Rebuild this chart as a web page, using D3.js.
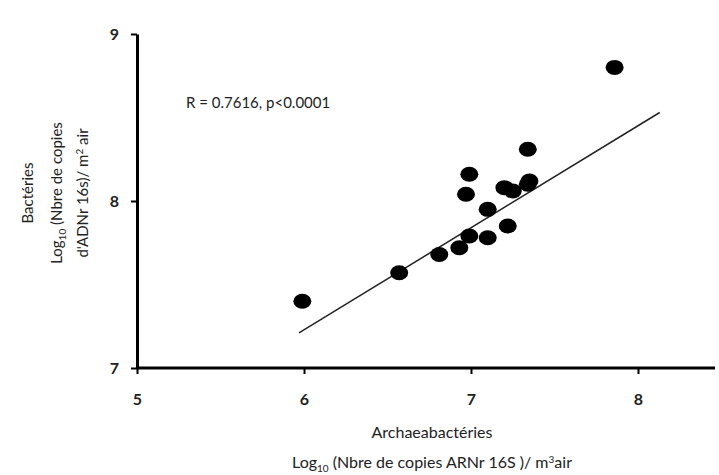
<!DOCTYPE html>
<html>
<head>
<meta charset="utf-8">
<script src="https://cdn.jsdelivr.net/npm/d3@7"></script>
<style>
  body { margin: 0; background: #fff; }
  text { font-family: Lato, "Open Sans", sans-serif; fill: #222; }
</style>
</head>
<body>
<div class="container"></div>
<script>
// archaea (x) vs bacteria (y), log10 copies / m3 air
const archaea = [5.99, 6.57, 6.81, 6.93, 6.99, 7.10, 7.22, 7.10, 6.97, 6.99, 7.20, 7.25, 7.34, 7.35, 7.34, 7.86];
const bacteria = [7.40, 7.57, 7.68, 7.72, 7.79, 7.78, 7.85, 7.95, 8.04, 8.16, 8.08, 8.06, 8.10, 8.12, 8.31, 8.80];
const fitX = [5.97, 8.13];
const fitY = [7.21, 8.53];
const xTicks = [5, 6, 7, 8];
const yTicks = [7, 8, 9];

const width = 719, height = 475;

const svg = d3
  .select(".container")
  .append("svg")
  .attr("width", width)
  .attr("height", height);

const xScale = d3.scaleLinear().domain([5, 8]).range([137, 638]);
const yScale = d3.scaleLinear().domain([7, 9]).range([368, 34]);

// axes
const xAxis = svg
  .append("g")
  .attr("transform", `translate(0, ${yScale(7)})`)
  .call(d3.axisBottom(xScale).tickValues(xTicks).tickFormat(d3.format("d"))
    .tickSize(6).tickPadding(20).tickSizeOuter(0));
xAxis.select(".domain").attr("d", `M${xScale(5)},0H715`).attr("stroke-width", 3);

const yAxis = svg
  .append("g")
  .attr("transform", `translate(${xScale(5)}, 0)`)
  .call(d3.axisLeft(yScale).tickValues(yTicks).tickFormat(d3.format("d"))
    .tickSize(6).tickPadding(12).tickSizeOuter(0));
yAxis.select(".domain").attr("stroke-width", 3);

svg.selectAll(".tick line").attr("stroke-width", 2);
svg.selectAll(".tick text")
  .style("font-size", "16px")
  .style("font-weight", "bold")
  .attr("fill", "#222");

// regression line
svg
  .append("line")
  .attr("x1", xScale(fitX[0]))
  .attr("y1", yScale(fitY[0]))
  .attr("x2", xScale(fitX[1]))
  .attr("y2", yScale(fitY[1]))
  .attr("stroke", "#222")
  .attr("stroke-width", 1.5);

// points
const pts = archaea.map((a, i) => ({ x: a, y: bacteria[i] }));
svg
  .selectAll(".dot")
  .data(pts)
  .join("ellipse")
  .attr("class", "dot")
  .attr("cx", (d) => xScale(d.x))
  .attr("cy", (d) => yScale(d.y))
  .attr("rx", 9)
  .attr("ry", 7.5)
  .attr("fill", "#000");

// annotation
svg
  .append("text")
  .attr("x", 186)
  .attr("y", 108)
  .style("font-size", "15px")
  .text("R = 0.7616, p<0.0001");

// x label
const xl = svg.append("text")
  .attr("text-anchor", "middle")
  .style("font-size", "16px");
xl.append("tspan").attr("x", 432).attr("y", 438).text("Archaeabactéries");
const xl2 = xl.append("tspan").attr("x", 432).attr("y", 468);
xl2.append("tspan").text("Log");
xl2.append("tspan").attr("dy", 4).style("font-size", "10px").text("10");
xl2.append("tspan").attr("dy", -4).text(" (Nbre de copies ARNr 16S )/ m");
xl2.append("tspan").attr("dy", -5).style("font-size", "10px").text("3");
xl2.append("tspan").attr("dy", 5).text("air");

// y label
const yl = svg.append("text")
  .attr("text-anchor", "middle")
  .attr("transform", "translate(0, 193) rotate(-90)")
  .style("font-size", "15px");
yl.append("tspan").attr("x", 0).attr("y", 33).text("Bactéries");
const yl2 = yl.append("tspan").attr("x", 0).attr("y", 62);
yl2.append("tspan").text("Log");
yl2.append("tspan").attr("dy", 4).style("font-size", "10px").text("10");
yl2.append("tspan").attr("dy", -4).text(" (Nbre de copies");
const yl3 = yl.append("tspan").attr("x", 0).attr("y", 88);
yl3.append("tspan").text("d'ADNr 16s)/ m");
yl3.append("tspan").attr("dy", -5).style("font-size", "10px").text("2");
yl3.append("tspan").attr("dy", 5).text(" air");
</script>
</body>
</html>
